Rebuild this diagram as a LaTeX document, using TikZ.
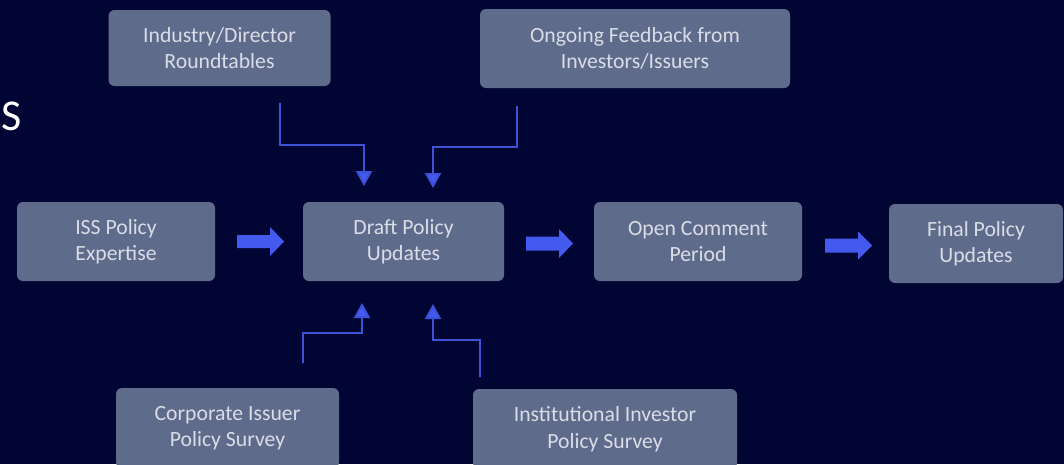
\documentclass[tikz,border=0pt]{standalone}
\usepackage{fontspec}
\setmainfont{Carlito}
\usetikzlibrary{arrows.meta}
\definecolor{bgnavy}{HTML}{000533}
\definecolor{boxgray}{HTML}{5F6B8A}
\definecolor{boxtext}{HTML}{DADDE8}
\definecolor{linkblue}{HTML}{3D52D8}
\definecolor{arrblue}{HTML}{4459EE}
\tikzset{
  stagebox/.style={fill=boxgray, rounded corners=6pt, inner sep=0pt, align=center,
    text=boxtext, font=\fontsize{21.7}{26.5}\selectfont},
  feed/.style={draw=linkblue, line width=2pt, -{Triangle[width=16pt,length=15pt,fill=arrblue]}},
  blockarr/.style={fill=arrblue}
}
\begin{document}
\begin{tikzpicture}[x=1pt,y=-1pt]
\fill[bgnavy] (0,0) rectangle (1064,464);
\useasboundingbox (0,0) rectangle (1064,464);
\clip (0,0) rectangle (1064,464);

\node[anchor=base west, inner sep=0pt, text=white, font=\fontsize{44}{50}\selectfont] (title) at (1,130) {S};

\node[stagebox, minimum width=222pt, minimum height=76pt] (ind) at (219.5,48) {Industry/Director\\Roundtables};
\node[stagebox, minimum width=310pt, minimum height=79pt] (ong) at (635,48.5) {Ongoing Feedback from\\Investors/Issuers};
\node[stagebox, minimum width=198pt, minimum height=79pt] (iss) at (116,241.5) {ISS Policy\\Expertise};
\node[stagebox, minimum width=201pt, minimum height=79pt] (draft) at (403.5,241.5) {Draft Policy\\Updates};
\node[stagebox, minimum width=208pt, minimum height=79pt] (open) at (698,241.5) {Open Comment\\Period};
\node[stagebox, minimum width=174pt, minimum height=79pt] (final) at (976,243.5) {Final Policy\\Updates};
\node[stagebox, minimum width=223pt, minimum height=80pt] (corp) at (227.5,428) {Corporate Issuer\\Policy Survey};
\node[stagebox, minimum width=264pt, minimum height=80pt] (inst) at (605,429) {Institutional Investor\\Policy Survey};

% block arrows
\fill[blockarr] (237,235) -- (270,235) -- (270,227) -- (284,241.5) -- (270,256) -- (270,248) -- (237,248) -- cycle;
\fill[blockarr] (526,236.5) -- (559,236.5) -- (559,229) -- (573,243.5) -- (559,258) -- (559,250.5) -- (526,250.5) -- cycle;
\fill[blockarr] (825,238.5) -- (858,238.5) -- (858,231.5) -- (872,245.5) -- (858,259.5) -- (858,252.5) -- (825,252.5) -- cycle;

% feedback connectors
\coordinate (s1) at (280,103); \coordinate (e1) at (364,186);
\coordinate (s2) at (517,106); \coordinate (e2) at (433,188);
\coordinate (s3) at (303,363); \coordinate (e3) at (362,303);
\coordinate (s4) at (480,377); \coordinate (e4) at (433,304);
\draw[feed] (s1) -- (280,145) -| (e1);
\draw[feed] (s2) -- (517,147) -| (e2);
\draw[feed] (s3) -- (303,333) -| (e3);
\draw[feed] (s4) -- (480,340) -| (e4);
\end{tikzpicture}
\end{document}
